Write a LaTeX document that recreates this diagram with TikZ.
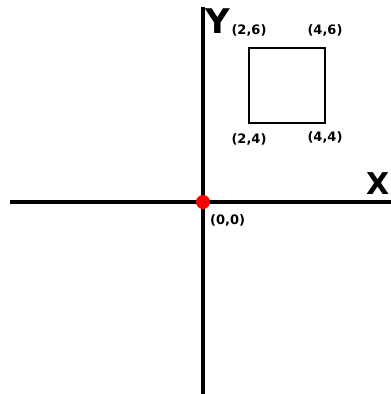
\documentclass[tikz,border=0pt]{standalone}
\usepackage{fontspec}
\setmainfont{DejaVu Sans}
\usepackage{tikz}
\usetikzlibrary{positioning}

\begin{document}
\begin{tikzpicture}[x=1pt, y=-1pt, font=\bfseries]
    \tikzstyle{axis}=[draw=black, line width=4pt]
    \tikzstyle{sq}=[draw=black, line width=1.8pt]
    \tikzstyle{pt}=[font=\fontsize{13}{13}\selectfont\bfseries, inner sep=0pt]
    \tikzstyle{axlabel}=[inner sep=0pt, anchor=base west]

    \useasboundingbox (0,0) rectangle (391,394);

    % axes
    \coordinate (O)      at (203,202);
    \coordinate (ytop)   at (203,7);
    \coordinate (ybot)   at (203,394);
    \coordinate (xleft)  at (10,202);
    \coordinate (xright) at (391,202);
    \draw[axis] (ybot) -- (ytop);
    \draw[axis] (xleft) -- (xright);

    % square
    \coordinate (tl) at (249,48);
    \coordinate (tr) at (325,48);
    \coordinate (br) at (325,123);
    \coordinate (bl) at (249,123);
    \draw[sq] (tl) -- (tr) -- (br) -- (bl) -- cycle;

    \node[axlabel, font=\fontsize{34}{34}\selectfont\bfseries] (ylbl) at (205,33) {Y};
    \node[axlabel, font=\fontsize{30}{30}\selectfont\bfseries] (xlbl) at (366,194) {X};

    \node[pt, above=11.5pt of tl] (ptl) {(2,6)};
    \node[pt, above=11.5pt of tr] (ptr) {(4,6)};
    \node[pt, below=10pt of bl] (pbl) {(2,4)};
    \node[pt, below=8pt of br] (pbr) {(4,4)};
    \node[pt, below right=12pt and 7pt of O] (porig) {(0,0)};

    \fill[red] (O) circle (7pt);
\end{tikzpicture}
\end{document}
